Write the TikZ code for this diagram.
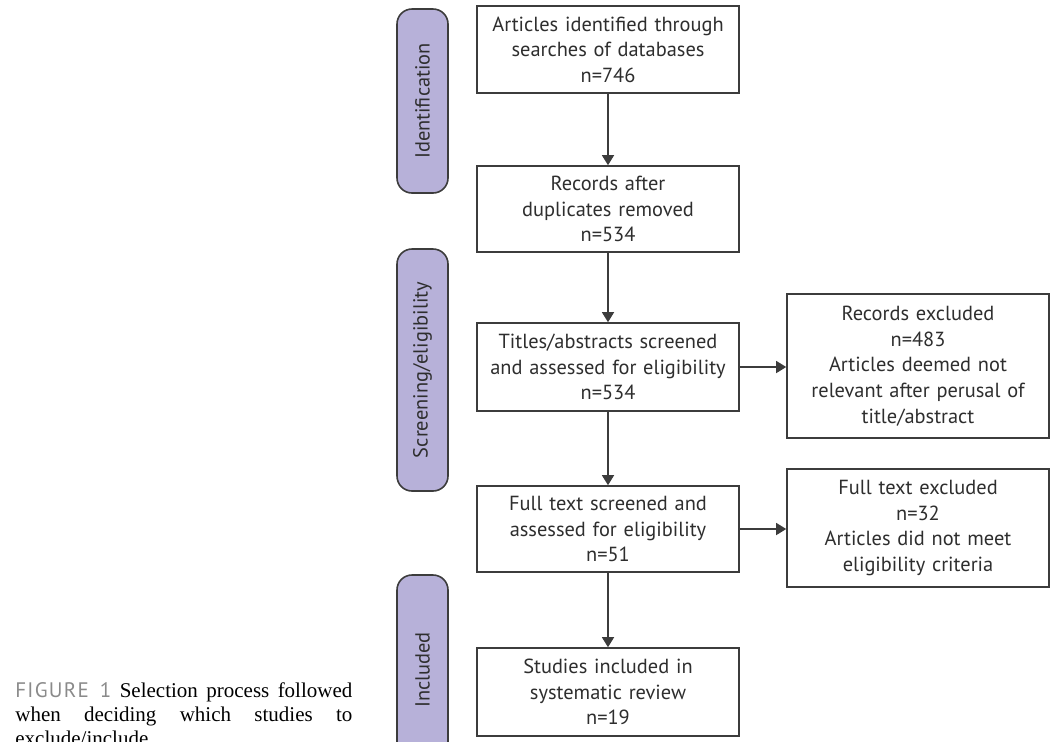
\documentclass[tikz,border=0pt]{standalone}
\usepackage{fontspec}
\setmainfont{Liberation Serif}
\newfontfamily\flowfont{PT Sans}
\newfontfamily\figfont[LetterSpace=6]{PT Sans}
\usepackage{xcolor}
\usetikzlibrary{arrows.meta}
\definecolor{flowline}{HTML}{3C3C3C}
\definecolor{flowtext}{HTML}{2E2E2E}
\definecolor{phasefill}{HTML}{B7B1D9}
\definecolor{capgray}{HTML}{8A8A8A}
\tikzset{
  stepbox/.style={draw=flowline,line width=0.8pt,fill=white,text=flowtext,
    minimum width=131pt,text width=127pt,align=center,inner sep=1pt,
    font=\flowfont\fontsize{10.2}{12.8}\selectfont},
  phase/.style={draw=flowline,line width=0.8pt,fill=phasefill,text=flowtext,
    rounded corners=7.5pt,minimum height=25.5pt,inner sep=0pt,
    font=\flowfont\fontsize{10.2}{12}\selectfont},
  flow/.style={draw=flowline,line width=0.7pt,-{Triangle[width=6pt,length=5pt]}}
}
\begin{document}
\begin{tikzpicture}[x=0.5pt,y=-0.5pt]
  \useasboundingbox (0,0) rectangle (1054,741);
  % main column
  \node[stepbox,minimum height=43.5pt] (ident) at (608,49.5)
    {Articles identified through\\searches of databases\\n=746};
  \node[stepbox,minimum height=43pt] (dedup) at (608,209)
    {Records after\\duplicates removed\\n=534};
  \node[stepbox,minimum height=44pt] (screen) at (608,367)
    {Titles/abstracts screened\\and assessed for eligibility\\n=534};
  \node[stepbox,minimum height=43pt] (fulltext) at (608,529)
    {Full text screened and\\assessed for eligibility\\n=51};
  \node[stepbox,minimum height=44pt] (incl) at (608,692)
    {Studies included in\\systematic review\\n=19};
  % exclusions
  \node[stepbox,minimum height=72pt] (excl1) at (918,366)
    {Records excluded\\n=483\\Articles deemed not\\relevant after perusal of\\title/abstract};
  \node[stepbox,minimum height=59pt] (excl2) at (918,528)
    {Full text excluded\\n=32\\Articles did not meet\\eligibility criteria};
  % phase labels
  \node[phase,minimum width=92pt,rotate=90] (pident) at (422.5,101) {Identification};
  \node[phase,minimum width=121pt,rotate=90] (pscreen) at (422.5,370) {Screening/eligibility};
  \node[phase,minimum width=95pt,rotate=90] (pincl) at (422.5,670) {Included};
  % arrows
  \draw[flow] (ident) -- (dedup);
  \draw[flow] (dedup) -- (screen);
  \draw[flow] (screen) -- (fulltext);
  \draw[flow] (fulltext) -- (incl);
  \draw[flow] (screen.east) -- (excl1.west |- screen.east);
  \draw[flow] (fulltext.east) -- (excl2.west |- fulltext.east);
  % caption
  \node[anchor=north west,inner sep=0pt,text width=168.5pt,align=justify,
    font=\fontsize{10.5}{12}\selectfont] (caption) at (15,682)
    {{\figfont\fontsize{10.5}{12}\selectfont\color{capgray}FIGURE 1} Selection process \mbox{followed}\linebreak
     when deciding which studies to\linebreak \mbox{exclude/include.}};
\end{tikzpicture}
\end{document}
